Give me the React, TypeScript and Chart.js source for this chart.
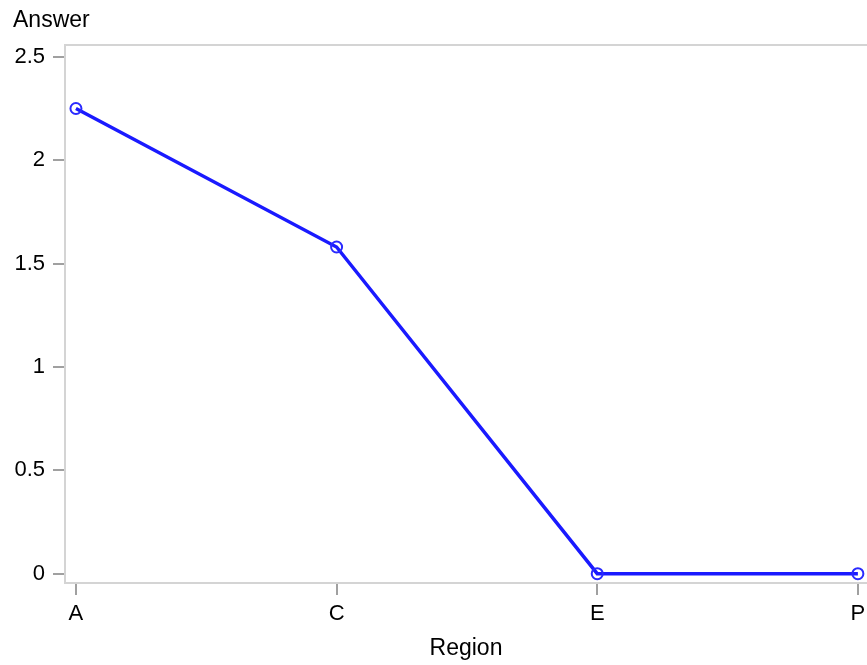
import React, { useEffect, useRef } from "react";
import { Chart, registerables } from "chart.js";

Chart.register(...registerables);

const categories = ["A", "C", "E", "P"];
const answerValues = [2.25, 1.58, 0, 0];
const yTicks = [0, 0.5, 1, 1.5, 2, 2.5];
const yTitle = "Answer";
const xTitle = "Region";

const FONT = "'Liberation Sans', Arial, sans-serif";
const FS = 22;

const framePlugin = {
  id: "frame",
  beforeDatasetsDraw(chart: any) {
    const { ctx, chartArea } = chart;
    const { left, top, right, bottom } = chartArea;
    ctx.save();
    ctx.strokeStyle = "#d4d4d4";
    ctx.lineWidth = 2;
    ctx.beginPath();
    ctx.moveTo(right + 2, top);
    ctx.lineTo(left, top);
    ctx.lineTo(left, bottom);
    ctx.lineTo(right + 2, bottom);
    ctx.stroke();
    ctx.restore();
  },
  afterDraw(chart: any) {
    const { ctx } = chart;
    ctx.save();
    ctx.fillStyle = "#000";
    ctx.font = `${FS + 1}px ${FONT}`;
    ctx.textBaseline = "alphabetic";
    ctx.textAlign = "left";
    ctx.fillText(yTitle, 13, 27);
    ctx.textAlign = "center";
    ctx.fillText(xTitle, 466, 655);
    ctx.restore();
  },
};

export default function App() {
  const ref = useRef<HTMLCanvasElement>(null);
  useEffect(() => {
    document.body.style.margin = "0";
    document.body.style.overflow = "hidden";
    const chart = new Chart(ref.current!, {
      type: "line",
      data: {
        datasets: [
          {
            data: categories.map((_, i) => ({ x: i, y: answerValues[i] })),
            borderColor: "#1a1aff",
            borderWidth: 3.5,
            pointRadius: 5.5,
            pointBorderWidth: 2,
            pointBackgroundColor: "rgba(0,0,0,0)",
            pointBorderColor: "#2a2aff",
            tension: 0,
            clip: 10,
          },
        ],
      },
      options: {
        animation: false,
        responsive: false,
        maintainAspectRatio: false,
        layout: { autoPadding: false, padding: { top: 45, right: 0, left: 0, bottom: 0 } },
        plugins: { legend: { display: false }, tooltip: { enabled: false } },
        scales: {
          x: {
            type: "linear",
            min: -0.042,
            max: 3.035,
            afterBuildTicks: (scale: any) => {
              scale.ticks = categories.map((_, i) => ({ value: i }));
            },
            afterFit: (scale: any) => {
              scale.height = 82;
              scale.paddingLeft = 0;
              scale.paddingRight = 0;
            },
            grid: {
              drawOnChartArea: false,
              drawTicks: true,
              tickLength: 12,
              color: "#a0a0a0",
              lineWidth: 2,
            },
            border: { display: false },
            ticks: {
              autoSkip: false,
              maxRotation: 0,
              padding: 6,
              color: "#000",
              font: { family: FONT, size: FS },
              callback: (v: any) => categories[Math.round(Number(v))] ?? "",
            },
          },
          y: {
            type: "linear",
            min: -0.045,
            max: 2.557,
            afterBuildTicks: (scale: any) => {
              scale.ticks = yTicks.map((v) => ({ value: v }));
            },
            afterFit: (scale: any) => {
              scale.width = 65;
              scale.paddingTop = 0;
              scale.paddingBottom = 0;
            },
            grid: {
              drawOnChartArea: false,
              drawTicks: true,
              tickLength: 12,
              color: "#a0a0a0",
              lineWidth: 2,
            },
            border: { display: false },
            ticks: {
              padding: 8,
              color: "#000",
              font: { family: FONT, size: FS },
              callback: (v: any) => String(v),
            },
          },
        },
      },
      plugins: [framePlugin],
    });
    return () => chart.destroy();
  }, []);
  return <canvas ref={ref} width={867} height={665} style={{ display: "block" }} />;
}
